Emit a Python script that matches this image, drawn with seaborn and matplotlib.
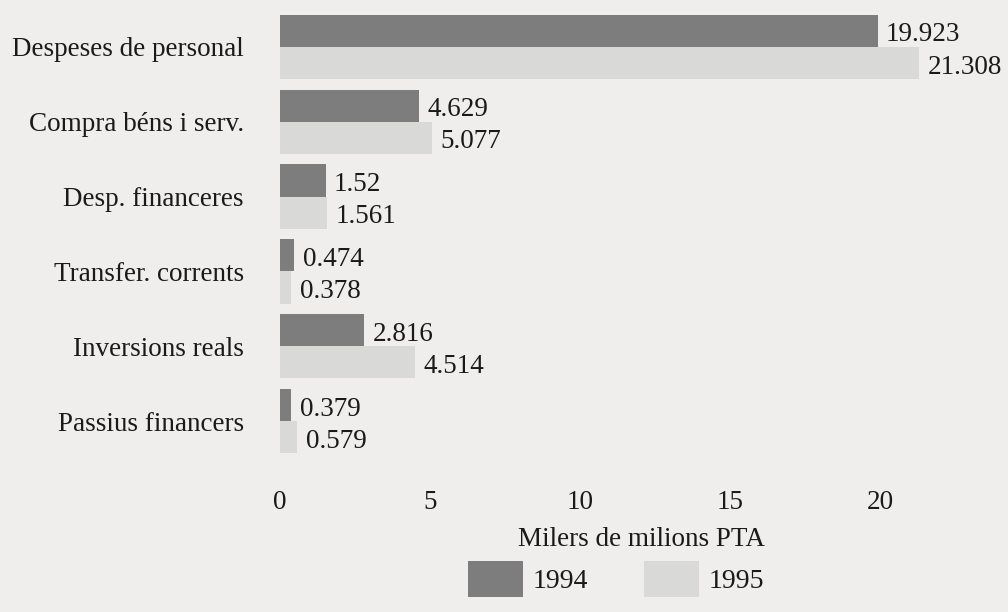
import matplotlib
matplotlib.use("Agg")
import matplotlib.pyplot as plt
import seaborn as sns
import pandas as pd
from matplotlib.patches import Patch

categories = ["Despeses de personal", "Compra béns i serv.", "Desp. financeres",
              "Transfer. corrents", "Inversions reals", "Passius financers"]
values_1994 = [19.923, 4.629, 1.52, 0.474, 2.816, 0.379]
values_1995 = [21.308, 5.077, 1.561, 0.378, 4.514, 0.579]
labels_1994 = ["19.923", "4.629", "1.52", "0.474", "2.816", "0.379"]
labels_1995 = ["21.308", "5.077", "1.561", "0.378", "4.514", "0.579"]
years = ["1994", "1995"]
xticks = [0, 5, 10, 15, 20]

df = pd.DataFrame({
    "cat": categories * 2,
    "val": values_1994 + values_1995,
    "year": [years[0]] * len(categories) + [years[1]] * len(categories),
})

sns.set_theme(style="white")
plt.rcParams["font.family"] = ["Liberation Serif", "DejaVu Serif"]

bg = "#efeeec"
colors = {"1994": "#7d7d7d", "1995": "#d9d9d8"}

fig = plt.figure(figsize=(10.08, 6.12), dpi=100, facecolor=bg)
ax = fig.add_axes([280 / 1008, 1 - 466 / 612, 1 - 280 / 1008 - 0.005, (466 - 2) / 612])
ax.set_facecolor(bg)

sns.barplot(data=df, y="cat", x="val", hue="year", orient="h", palette=colors,
            width=0.86, ax=ax, legend=False, saturation=1, linewidth=0)

for cont, labs in zip(ax.containers, [labels_1994, labels_1995]):
    anns = ax.bar_label(cont, labels=labs, padding=7, fontsize=19.5, color="#1a1a1a")
    for a in anns:
        a.xyann = (6, -3)

ax.set_xlim(0, 24.1)
ax.set_ylim(5.6, -0.6)
ax.set_xticks(xticks)
ax.set_xticklabels([str(t) for t in xticks])
ax.tick_params(axis="x", length=0, pad=17, labelsize=19.5, colors="#1a1a1a")
ax.tick_params(axis="y", length=0, pad=26, labelsize=19.5, colors="#1a1a1a")
ax.set_ylabel("")
ax.set_xlabel("Milers de milions PTA", fontsize=19.5, color="#1a1a1a", labelpad=9)
for s in ax.spines.values():
    s.set_visible(False)

handles = [Patch(facecolor=colors[y], edgecolor="none", label=y) for y in years]
fig.legend(handles=handles, loc="center", bbox_to_anchor=(616 / 1008, 1 - 579 / 612),
           ncol=2, frameon=False, fontsize=20, handlelength=2.0, handleheight=1.6,
           handletextpad=0.35, columnspacing=2.0, labelcolor="#1a1a1a")

fig.savefig("out.png", dpi=100, facecolor=bg)
